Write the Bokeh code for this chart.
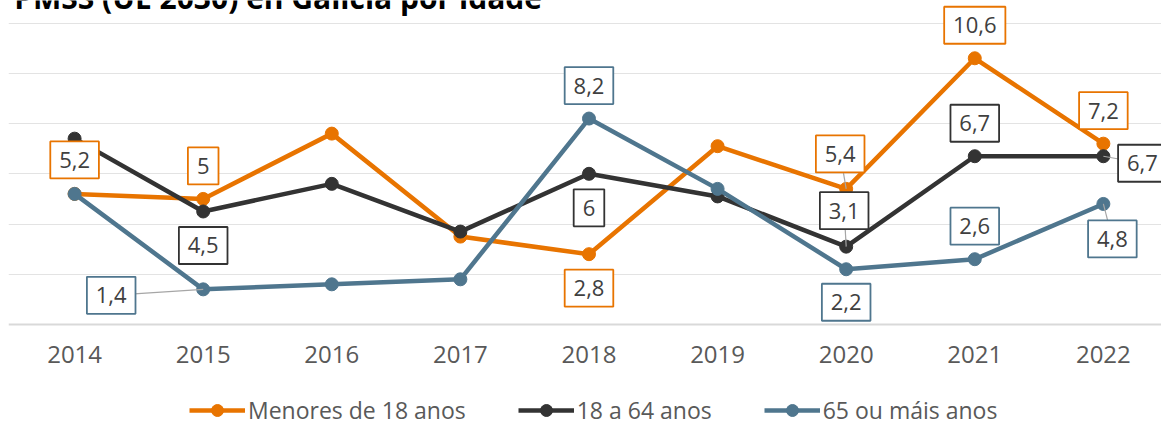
from bokeh.plotting import figure
from bokeh.models import (ColumnDataSource, Legend, LegendItem,
                          FixedTicker, Label, Span)
from bokeh.core.properties import value
from bokeh.embed import file_html
from bokeh.resources import INLINE

# ---- data ----
years = ["2014", "2015", "2016", "2017", "2018", "2019", "2020", "2021", "2022"]
menores = [5.2, 5.0, 7.6, 3.5, 2.8, 7.1, 5.4, 10.6, 7.2]
adultos = [7.4, 4.5, 5.6, 3.7, 6.0, 5.1, 3.1, 6.7, 6.7]
maiores = [5.2, 1.4, 1.6, 1.8, 8.2, 5.4, 2.2, 2.6, 4.8]
series_names = ["Menores de 18 anos", "18 a 64 anos", "65 ou máis anos"]
title_text = "PMSS (UE 2030) en Galicia por idade"
grid_ticks = [2, 4, 6, 8, 10, 12]

# which points carry a data label (indices)
menores_lab = [0, 1, 4, 6, 7, 8]
adultos_lab = [1, 4, 6, 7, 8]
maiores_lab = [1, 4, 6, 7, 8]

# label placement (screen px: dx right, dy up) and leader-line flags
menores_off = [(0, 34), (0, 33), (0, -34), (-6, 35), (0, 33), (0, 33)]
adultos_off = [(0, -34), (0, -34), (-2, 36), (0, 33), (39, -7)]
maiores_off = [(-92, -6), (0, 33), (0, -33), (0, 33), (9, -35)]
menores_lead = [6]
adultos_lead = [6, 8]
maiores_lead = [1, 8]

colors = ["#E87400", "#333333", "#4F768E"]

PX_X = 128.6   # px per x unit
PX_Y = 25.12   # px per y unit
H = 426
Y_TOP = 12.9
Y_BOT = -(H - 324) / PX_Y

p = figure(width=1161, height=H, x_range=(-0.514, 8.452), y_range=(Y_BOT, Y_TOP),
           output_backend="svg", toolbar_location=None,
           min_border_left=8, min_border_right=0, min_border_top=0,
           min_border_bottom=0)
p.outline_line_color = None
p.background_fill_color = "white"
p.border_fill_color = "white"
p.xaxis.visible = False
p.yaxis.visible = False
p.xgrid.visible = False
p.ygrid.ticker = FixedTicker(ticks=grid_ticks)
p.ygrid.grid_line_color = "#e3e3e3"
p.ygrid.grid_line_width = 1.2

# baseline (axis line)
p.add_layout(Span(location=0, dimension="width", line_color="#d9d9d9", line_width=2))

xs = list(range(len(years)))

# category labels along the baseline
ysrc = ColumnDataSource(dict(x=xs, y=[-30 / PX_Y] * len(xs), t=years))
p.text(x="x", y="y", text="t", source=ysrc, text_align="center",
       text_baseline="middle", text_font=value("Open Sans"),
       text_font_size="24px", text_color="#595959")

items = []
all_series = [menores, adultos, maiores]
lab_idx = [menores_lab, adultos_lab, maiores_lab]
offs = [menores_off, adultos_off, maiores_off]
leads = [menores_lead, adultos_lead, maiores_lead]

for vals, col, name in zip(all_series, colors, series_names):
    src = ColumnDataSource(dict(x=xs, y=vals))
    lr = p.line("x", "y", source=src, line_color=col, line_width=4.5)
    sr = p.scatter("x", "y", source=src, marker="circle", size=13,
                   fill_color=col, line_color=col)
    items.append(LegendItem(label=name, renderers=[lr, sr]))

# leader lines
for vals, idxs, off, lead in zip(all_series, lab_idx, offs, leads):
    x0, y0, x1, y1 = [], [], [], []
    for k, i in enumerate(idxs):
        if i in lead:
            dx, dy = off[k]
            x0.append(xs[i]); y0.append(vals[i])
            x1.append(xs[i] + dx / PX_X); y1.append(vals[i] + dy / PX_Y)
    if x0:
        p.segment(x0=x0, y0=y0, x1=x1, y1=y1, line_color="#a6a6a6", line_width=1.2)

def fmt(v):
    s = ("%.1f" % v).rstrip("0").rstrip(".")
    return s.replace(".", ",")

for vals, idxs, off, col in zip(all_series, lab_idx, offs, colors):
    texts = [fmt(vals[i]) for i in idxs]
    widths = [18 + 12.6 * sum(c.isdigit() for c in t) + 5.4 * t.count(",") for t in texts]
    src = ColumnDataSource(dict(
        x=[xs[i] + o[0] / PX_X for i, o in zip(idxs, off)],
        y=[vals[i] + o[1] / PX_Y for i, o in zip(idxs, off)],
        text=texts, w=widths))
    p.rect(x="x", y="y", width="w", height=37, width_units="screen",
           height_units="screen", source=src, fill_color="white",
           line_color=col, line_width=1.8)
    p.text(x="x", y="y", text="text", source=src, text_align="center",
           text_baseline="middle", text_font=value("Open Sans"),
           text_font_size="22px", text_color="#404040")

title = Label(x=-0.47, y=Y_TOP + 3 / PX_Y, text=title_text,
              text_font="Open Sans", text_font_size="30px",
              text_font_style="bold", text_color="black",
              text_baseline="alphabetic", text_align="left")
p.add_layout(title)

legend = Legend(items=items, orientation="horizontal", location=(181, 0),
                border_line_color=None, background_fill_alpha=0,
                label_text_font="Open Sans", label_text_font_size="23px",
                label_text_color="#595959", glyph_width=56, glyph_height=30,
                label_standoff=3, spacing=52, padding=0, margin=0)
p.add_layout(legend, "center")

open("out.html", "w").write(file_html(p, INLINE))
